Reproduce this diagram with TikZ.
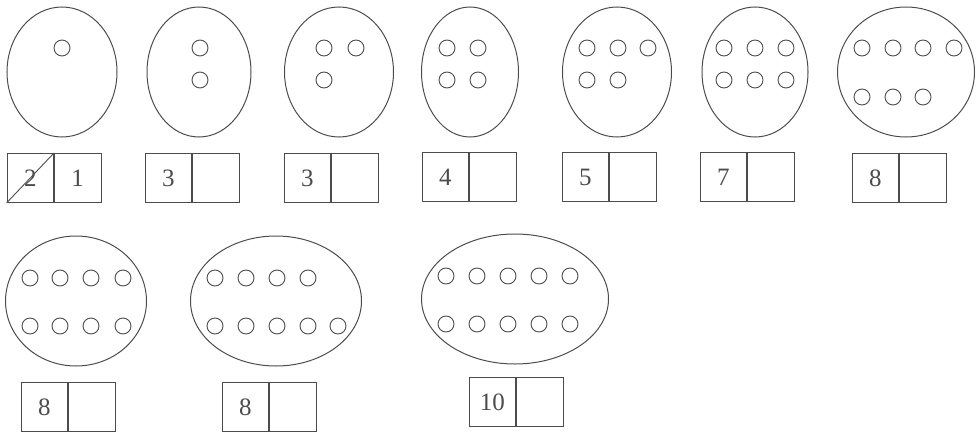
\documentclass[tikz,border=0pt]{standalone}
\usepackage{fontspec}
\setmainfont{Liberation Serif}
\usetikzlibrary{shapes.geometric}
\definecolor{inkgray}{rgb}{0.3,0.3,0.3}
\tikzset{
  egg/.style={draw=inkgray,line width=1pt,ellipse,inner sep=0pt,minimum height=130pt},
  bead/.style={draw=inkgray,line width=0.9pt,circle,inner sep=0pt,minimum size=16pt},
  cell/.style={draw=inkgray,line width=0.9pt,inner sep=0pt,minimum width=46.5pt,minimum height=49pt,
    text=inkgray,font=\fontsize{25}{30}\selectfont}
}

\begin{document}
\begin{tikzpicture}[x=1pt,y=-1pt]
\useasboundingbox (0,0) rectangle (977,431);
% eggs
\foreach \n/\x/\y/\w in {1/62/72/110, 2/199/72/104, 3/339/72/109, 4/470/72/97,
  5/617/72/109, 6/755/72/106, 7/906/72/137, 8/76/301/141, 9/276/301/171, 10/515/299/187} {
  \node[egg,minimum width=\w] (e\n) at (\x,\y) {};
}
% beads
\foreach \x/\y [count=\i] in {62/48,
  200/48, 200/80,
  324/48, 356/48, 324/80,
  447/48, 478/48, 447/80, 478/80,
  587/48, 618/48, 648/48, 587/80, 618/80,
  724/48, 755/48, 786/48, 724/80, 755/80, 786/80,
  862/48, 893/48, 923/48, 954/48, 862/97, 893/97, 923/97,
  30/278, 60/278, 91/278, 123/278, 30/326, 60/326, 91/326, 123/326,
  215/278, 246/278, 277/278, 308/278, 215/326, 246/326, 277/326, 308/326, 338/326,
  446/276, 477/276, 508/276, 539/276, 570/276, 446/324, 477/324, 508/324, 539/324, 570/324} {
  \node[bead] (d\i) at (\x,\y) {};
}
% boxes
\foreach \n/\x/\y/\l/\r in {1/54/153/2/1, 2/192/153/3/{}, 3/331/153/3/{}, 4/469/152/4/{},
  5/609/152/5/{}, 6/747/152/7/{}, 7/899/153/8/{}, 8/68/382/8/{}, 9/269/382/8/{}, 10/516/377/10/{}} {
  \node[cell,anchor=north east] (b\n l) at (\x,\y) {\l};
  \node[cell,anchor=north west] (b\n r) at (\x,\y) {\r};
}
\draw[inkgray,line width=0.9pt] (b1l.south west) -- (b1l.north east);
\end{tikzpicture}
\end{document}
